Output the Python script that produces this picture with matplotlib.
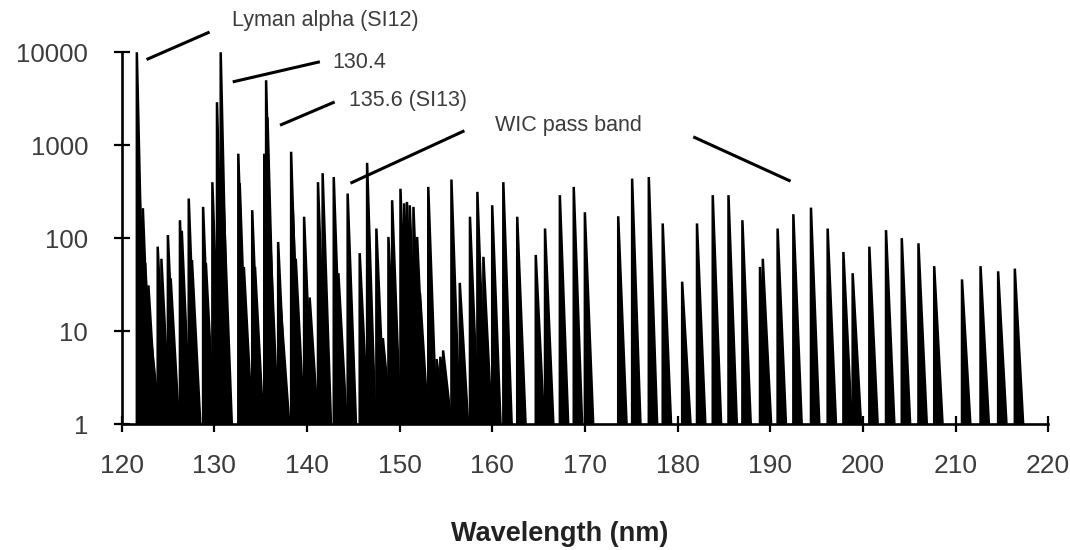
import matplotlib
matplotlib.use("Agg")
import matplotlib.pyplot as plt

# ---------- style ----------
plt.rcParams["font.family"] = ["Liberation Sans", "DejaVu Sans"]
TICK_COLOR = "#3c3c3c"
BAND_WIDTH = 0.9   # nm, base width of each drawn emission band

# ---------- data ----------
wavelength_nm = [
    121.65, 121.9, 122.3, 122.55, 122.9, 123.25,
    123.9, 124.3, 125.0, 125.3, 126.3, 126.5, 127.25, 127.6,
    128.8, 129.1, 129.8, 130.3, 130.7, 131.0,
    132.6, 132.75, 133.2, 134.1, 134.4, 135.4, 135.6, 135.75, 136.0,
    136.9, 137.2, 138.3, 138.45, 138.8, 139.7, 140.3,
    141.2, 141.7, 142.9, 143.4, 144.4, 145.7, 146.5, 147.5, 148.2,
    148.8, 149.2, 150.1, 150.5, 150.8, 151.1, 151.5, 151.9, 152.2,
    153.1, 154.0, 154.4, 154.7, 155.6, 156.5, 157.6, 158.4, 159.05,
    160.0, 161.2, 162.7, 164.7, 165.7, 167.3, 168.8, 170.0,
    173.6, 175.1, 176.9, 178.4, 180.5, 182.1, 183.8, 185.5, 187.0,
    188.9, 189.2, 190.8, 192.5, 194.4, 196.2, 197.9, 198.9, 200.7,
    202.5, 204.2, 206.0, 207.7, 210.7, 212.7, 214.6, 216.4,
]
intensity = [
    10000, 400, 210, 54, 31, 7,
    81, 60, 108, 37, 156, 120, 267, 58,
    217, 54, 400, 2900, 10000, 256,
    810, 390, 49, 200, 49, 810, 5000, 2000, 122,
    91, 17, 850, 245, 60, 170, 23,
    400, 500, 455, 42, 302, 69, 646, 127, 8.4,
    103, 256, 340, 237, 245, 226, 217, 103, 25.6,
    356, 5, 5.3, 6.2, 427, 33, 170, 315, 63,
    226, 400, 170, 66, 127, 290, 356, 190,
    172, 437, 455, 144, 34, 144, 290, 290, 156,
    49, 60, 127, 181, 213, 127, 71, 42, 81,
    122, 100, 88, 50, 36, 50, 44, 47,
]

x_ticks = [120, 130, 140, 150, 160, 170, 180, 190, 200, 210, 220]
y_ticks = [1, 10, 100, 1000, 10000]
y_tick_labels = ["1", "10", "100", "1000", "10000"]

# annotation labels: (text, x, y) and leader lines (x0, y0, x1, y1)
labels = [
    ("Lyman alpha (SI12)", 131.9, 22000),
    ("130.4", 142.8, 7800),
    ("135.6 (SI13)", 144.5, 3050),
    ("WIC pass band", 160.3, 1640),
]
leaders = [
    (122.7, 8350, 129.5, 16500),
    (132.0, 4800, 141.4, 7900),
    (137.1, 1640, 143.0, 2920),
    (144.7, 390, 157.0, 1430),
    (181.7, 1230, 192.2, 410),
]

# ---------- plot ----------
fig = plt.figure(figsize=(10.7, 5.5), dpi=100)
ax = fig.add_axes([0.1136, 0.229, 0.866, 0.676])

for wl, h in zip(wavelength_nm, intensity):
    ax.fill([wl, wl, wl + BAND_WIDTH], [1, h, 1],
            facecolor="black", edgecolor="black", linewidth=1.8,
            joinstyle="bevel")

ax.set_yscale("log")
ax.set_xlim(120, 220)
ax.set_ylim(1, 10000)

ax.set_xticks(x_ticks)
ax.set_yticks(y_ticks)
ax.set_yticklabels(y_tick_labels)
ax.minorticks_off()

for side in ["top", "right"]:
    ax.spines[side].set_visible(False)
for side in ["left", "bottom"]:
    ax.spines[side].set_linewidth(1.9)
    ax.spines[side].set_color("black")

ax.tick_params(axis="x", direction="inout", length=11, width=1.6,
               pad=16, labelsize=19, labelcolor=TICK_COLOR)
ax.tick_params(axis="y", direction="inout", length=12, width=1.6,
               pad=18, labelsize=18.5, labelcolor=TICK_COLOR)

ax.set_xlabel("Wavelength (nm)", fontsize=19.5, fontweight="bold",
              color="#222222")
ax.xaxis.set_label_coords(0.473, -0.262)

for text, x, y in labels:
    ax.text(x, y, text, fontsize=15.5, color=TICK_COLOR,
            ha="left", va="center", clip_on=False)
for x0, y0, x1, y1 in leaders:
    ax.plot([x0, x1], [y0, y1], color="black", linewidth=2.2,
            solid_capstyle="butt", clip_on=False)

fig.savefig("out.png", dpi=100)
